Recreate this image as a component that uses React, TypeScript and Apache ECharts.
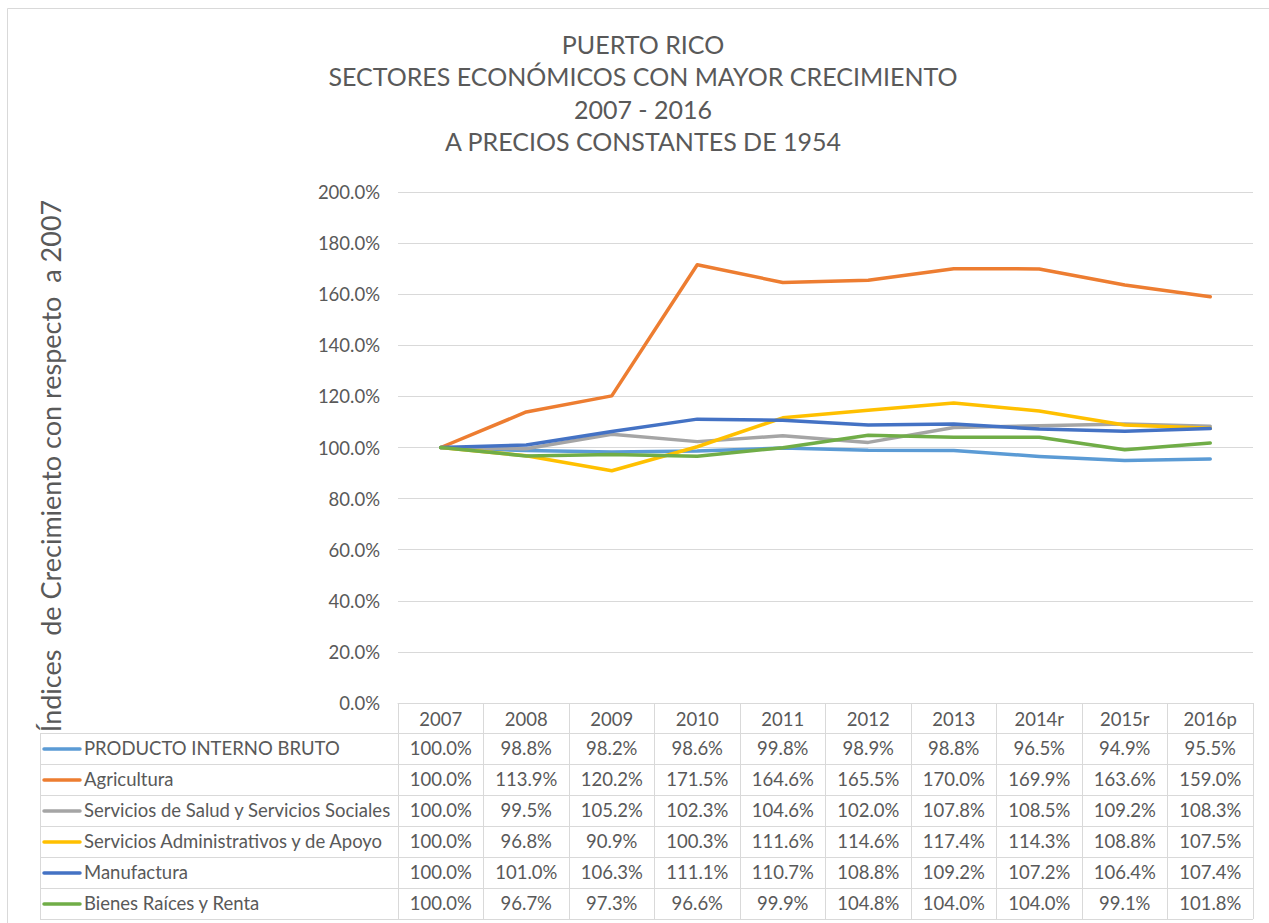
import React, { useEffect, useRef } from "react";
import * as echarts from "echarts";

const years = ["2007", "2008", "2009", "2010", "2011", "2012", "2013", "2014r", "2015r", "2016p"];
const seriesNames = [
  "PRODUCTO INTERNO BRUTO",
  "Agricultura",
  "Servicios de Salud y Servicios Sociales",
  "Servicios Administrativos y de Apoyo",
  "Manufactura",
  "Bienes Raíces y Renta",
];
const pib = [100.0, 98.8, 98.2, 98.6, 99.8, 98.9, 98.8, 96.5, 94.9, 95.5];
const agricultura = [100.0, 113.9, 120.2, 171.5, 164.6, 165.5, 170.0, 169.9, 163.6, 159.0];
const salud = [100.0, 99.5, 105.2, 102.3, 104.6, 102.0, 107.8, 108.5, 109.2, 108.3];
const administrativos = [100.0, 96.8, 90.9, 100.3, 111.6, 114.6, 117.4, 114.3, 108.8, 107.5];
const manufactura = [100.0, 101.0, 106.3, 111.1, 110.7, 108.8, 109.2, 107.2, 106.4, 107.4];
const bienesRaices = [100.0, 96.7, 97.3, 96.6, 99.9, 104.8, 104.0, 104.0, 99.1, 101.8];
const seriesValues = [pib, agricultura, salud, administrativos, manufactura, bienesRaices];
const seriesColors = ["#5B9BD5", "#ED7D31", "#A5A5A5", "#FFC000", "#4472C4", "#70AD47"];

const titleLines = [
  "PUERTO RICO",
  "SECTORES ECONÓMICOS CON MAYOR CRECIMIENTO",
  "2007 - 2016",
  "A PRECIOS CONSTANTES DE 1954",
];
const yAxisTitle = "Índices  de Crecimiento con respecto  a 2007";
const yMin = 0;
const yMax = 200;
const yInterval = 20;

const FONT = "Lato, 'Open Sans', sans-serif";
const TEXT = "#595959";
const LINE = "#D9D9D9";
const SMALL = 18.5;

export default function App() {
  const ref = useRef<HTMLDivElement>(null);
  useEffect(() => {
    if (!ref.current) return;
    const chart = echarts.init(ref.current, null, { renderer: "svg" });
    const gridLeft = 398;
    const gridTop = 192;
    const gridRightEdge = 1253;
    const gridBottomEdge = 703;
    const headerH = 30;
    const rowH = 31;
    const tableLeft = 40;
    const tableBottom = gridBottomEdge + headerH + rowH * seriesNames.length;

    chart.setOption({
      animation: false,
      backgroundColor: "#ffffff",
      title: {
        text: titleLines.join("\n"),
        left: 638,
        top: 23,
        textAlign: "center",
        textStyle: {
          fontFamily: FONT,
          fontSize: 25,
          lineHeight: 32.3,
          fontWeight: "normal",
          color: TEXT,
        },
      },
      grid: {
        left: gridLeft,
        top: gridTop,
        right: 1269 - gridRightEdge,
        bottom: 923 - gridBottomEdge,
        containLabel: false,
      },
      xAxis: {
        type: "category",
        data: years,
        boundaryGap: true,
        axisLine: { show: true, lineStyle: { color: LINE, width: 1 } },
        axisTick: {
          show: true,
          alignWithLabel: false,
          length: tableBottom - gridBottomEdge,
          lineStyle: { color: LINE, width: 1 },
        },
        axisLabel: {
          fontFamily: FONT,
          fontSize: SMALL,
          color: TEXT,
          margin: 6,
          interval: 0,
        },
        splitLine: { show: false },
      },
      yAxis: {
        type: "value",
        min: yMin,
        max: yMax,
        interval: yInterval,
        axisLine: { show: false },
        axisTick: { show: false },
        axisLabel: {
          fontFamily: FONT,
          fontSize: SMALL,
          color: TEXT,
          margin: 18,
          formatter: (v: number) => `${v.toFixed(1)}%`,
        },
        splitLine: { show: true, lineStyle: { color: LINE, width: 1 } },
      },
      series: seriesNames.map((name, i) => ({
        name,
        type: "line",
        data: seriesValues[i],
        symbol: "none",
        lineStyle: { color: seriesColors[i], width: 3.5, cap: "round", join: "round" },
        itemStyle: { color: seriesColors[i] },
      })),
    });

    const graphics: any[] = [];
    graphics.push({
      type: "rect",
      shape: { x: 7.5, y: 8.5, width: 1400, height: 1200 },
      style: { fill: "none", stroke: LINE, lineWidth: 1 },
      silent: true,
      z: -1,
    });
    graphics.push({
      type: "text",
      x: 50,
      y: 466,
      rotation: Math.PI / 2,
      style: {
        text: yAxisTitle,
        fontFamily: FONT,
        fontSize: 27,
        fill: TEXT,
        align: "center",
        verticalAlign: "middle",
      },
    });
    const rowTop = gridBottomEdge + headerH;
    for (let r = 0; r <= seriesNames.length; r++) {
      const y = rowTop + r * rowH + 0.5;
      graphics.push({
        type: "line",
        shape: { x1: tableLeft, y1: y, x2: gridRightEdge, y2: y },
        style: { stroke: LINE, lineWidth: 1 },
      });
    }
    graphics.push({
      type: "line",
      shape: { x1: tableLeft + 0.5, y1: rowTop, x2: tableLeft + 0.5, y2: tableBottom + 0.5 },
      style: { stroke: LINE, lineWidth: 1 },
    });
    seriesNames.forEach((name, i) => {
      const cy = rowTop + i * rowH + rowH / 2 - 0.5;
      graphics.push({
        type: "line",
        shape: { x1: 44, y1: cy + 1, x2: 80, y2: cy + 1 },
        style: { stroke: seriesColors[i], lineWidth: 3.5, lineCap: "round" },
      });
      graphics.push({
        type: "text",
        x: 84,
        y: cy,
        style: {
          text: name,
          fontFamily: FONT,
          fontSize: SMALL,
          fill: TEXT,
          align: "left",
          verticalAlign: "middle",
        },
      });
      seriesValues[i].forEach((v, j) => {
        const px = chart.convertToPixel({ xAxisIndex: 0 }, years[j]) as number;
        graphics.push({
          type: "text",
          x: px,
          y: cy,
          style: {
            text: `${v.toFixed(1)}%`,
            fontFamily: FONT,
            fontSize: SMALL,
            fill: TEXT,
            align: "center",
            verticalAlign: "middle",
          },
        });
      });
    });
    chart.setOption({ graphic: graphics });

    return () => chart.dispose();
  }, []);
  return (
    <div
      ref={ref}
      style={{ position: "fixed", left: 0, top: 0, width: 1269, height: 923, background: "#fff" }}
    />
  );
}
